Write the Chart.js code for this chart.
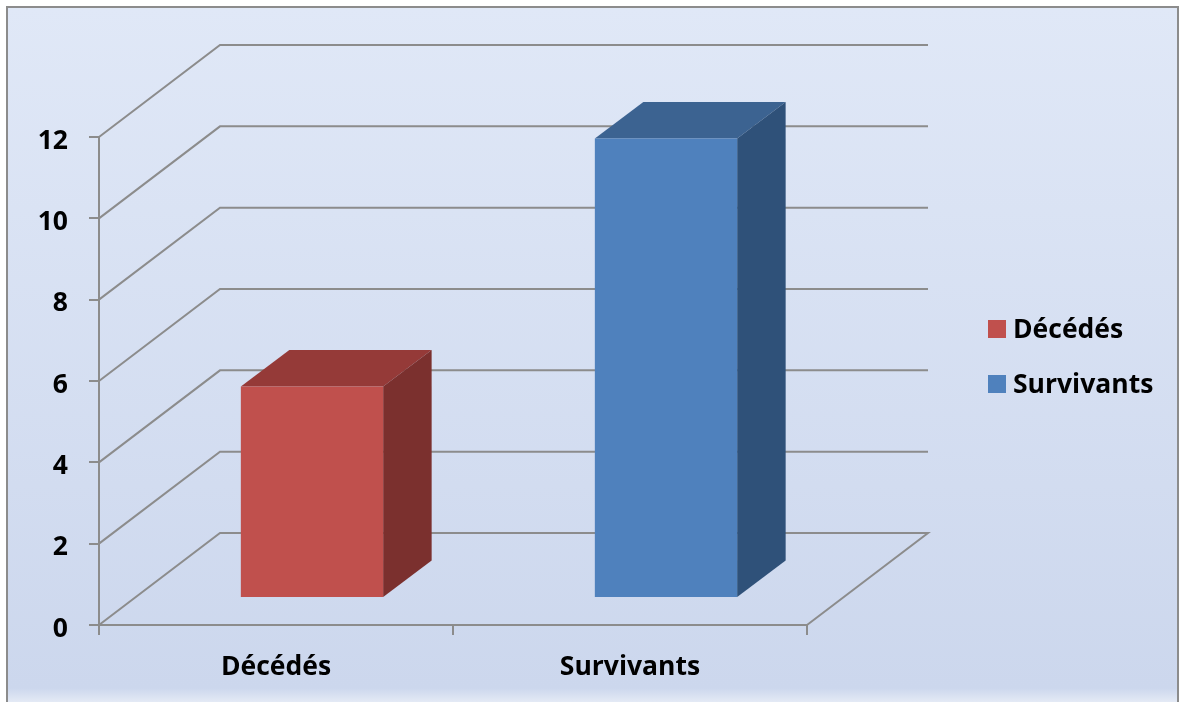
<!DOCTYPE html>
<html lang="fr">
<head>
<meta charset="utf-8">
<title>Décédés / Survivants</title>
<script src="https://cdn.jsdelivr.net/npm/chart.js@4"></script>
<style>
    html, body { margin: 0; padding: 0; background: #fff; }
    canvas { display: block; }
</style>
</head>
<body>
<canvas id="outcome-chart" width="1179" height="702"></canvas>
<script>
// Valeurs du graphique
const categories = ['Décédés', 'Survivants'];
const patientCounts = [5.2, 11.3];

// Couleurs des trois faces de chaque barre
const frontColors = ['#C0504D', '#4F81BD'];
const topColors = ['#953A38', '#3C6391'];
const sideColors = ['#7B302E', '#2F5179'];

const AXIS_COLOR = '#8C8C8C';
const FONT_FAMILY = '"Open Sans", Lato, sans-serif';
const FONT_SIZE = 26.5;

// Profondeur du décor (murs) et de la barre, en pixels
const WALL_DEPTH = { x: 121, y: -92 };
const BAR_OFFSET = { x: 36, y: -27 };
const BAR_DEPTH = { x: 48.5, y: -36.5 };

function polygon(ctx, points, color) {
    ctx.beginPath();
    points.forEach(([x, y], i) => (i ? ctx.lineTo(x, y) : ctx.moveTo(x, y)));
    ctx.closePath();
    ctx.fillStyle = color;
    ctx.fill();
}

// Fond dégradé et cadre
const backgroundPlugin = {
    id: 'panelBackground',
    beforeDraw(chart) {
        const { ctx, width, height } = chart;
        ctx.save();
        const gradient = ctx.createLinearGradient(0, 7, 0, height);
        gradient.addColorStop(0, '#E0E8F7');
        gradient.addColorStop(0.98, '#CCD7ED');
        gradient.addColorStop(1, '#E4EAF5');
        ctx.fillStyle = gradient;
        ctx.fillRect(7, 7, width - 8, height - 7);
        ctx.strokeStyle = AXIS_COLOR;
        ctx.lineWidth = 2;
        ctx.beginPath();
        ctx.moveTo(7, height);
        ctx.lineTo(7, 7);
        ctx.lineTo(width - 1, 7);
        ctx.lineTo(width - 1, height);
        ctx.stroke();
        ctx.restore();
    }
};

// Lignes de quadrillage sur le sol et les murs
const wallGridPlugin = {
    id: 'wallGrid',
    beforeDatasetsDraw(chart) {
        const { ctx, chartArea, scales } = chart;
        ctx.save();
        ctx.strokeStyle = AXIS_COLOR;
        ctx.lineWidth = 2;
        scales.y.ticks.forEach(tick => {
            const y = scales.y.getPixelForValue(tick.value);
            ctx.beginPath();
            ctx.moveTo(chartArea.left, y);
            ctx.lineTo(chartArea.left + WALL_DEPTH.x, y + WALL_DEPTH.y);
            ctx.lineTo(chartArea.right + WALL_DEPTH.x, y + WALL_DEPTH.y);
            if (tick.value === 0) {
                ctx.lineTo(chartArea.right, y);
            }
            ctx.stroke();
        });
        ctx.restore();
    }
};

// Les barres sont reculées sur le sol, puis extrudées (dessus + côté droit)
const barExtrusionPlugin = {
    id: 'barExtrusion',
    beforeDatasetDraw(chart, args) {
        const { ctx } = chart;
        ctx.save();
        ctx.translate(BAR_OFFSET.x, BAR_OFFSET.y);
        args.meta.data.forEach((bar, i) => {
            const { x, y, base, width } = bar.getProps(['x', 'y', 'base', 'width'], true);
            const left = x - width / 2;
            const right = x + width / 2;
            const dx = BAR_DEPTH.x;
            const dy = BAR_DEPTH.y;
            polygon(ctx, [[left, y], [right, y], [right + dx, y + dy], [left + dx, y + dy]], topColors[i]);
            polygon(ctx, [[right, y], [right + dx, y + dy], [right + dx, base + dy], [right, base]], sideColors[i]);
        });
    },
    afterDatasetDraw(chart) {
        chart.ctx.restore();
    }
};

// Légende à droite du graphique
const sideLegendPlugin = {
    id: 'sideLegend',
    afterDraw(chart) {
        const { ctx } = chart;
        ctx.save();
        ctx.font = 'bold ' + FONT_SIZE + 'px ' + FONT_FAMILY;
        ctx.textBaseline = 'alphabetic';
        categories.forEach((name, i) => {
            const y = 329 + i * 55;
            ctx.fillStyle = frontColors[i];
            ctx.fillRect(988, y - 9, 18, 18);
            ctx.fillStyle = '#000';
            ctx.fillText(name, 1013, y + 9);
        });
        ctx.restore();
    }
};

new Chart(document.getElementById('outcome-chart'), {
    type: 'bar',
    data: {
        labels: categories,
        datasets: [{
            label: 'Patients',
            data: patientCounts,
            backgroundColor: frontColors,
            borderWidth: 0,
            barPercentage: 0.402,
            categoryPercentage: 1,
            clip: false
        }]
    },
    options: {
        responsive: false,
        animation: false,
        layout: { padding: { left: 0, top: 137, right: 372, bottom: 0 } },
        plugins: {
            legend: { display: false },
            tooltip: { enabled: false }
        },
        scales: {
            y: {
                min: 0,
                max: 12,
                border: { color: AXIS_COLOR, width: 2 },
                grid: { drawOnChartArea: false, color: AXIS_COLOR, lineWidth: 2, tickLength: 10 },
                ticks: {
                    stepSize: 2,
                    padding: 21,
                    labelOffset: 4,
                    color: '#000',
                    font: { family: FONT_FAMILY, size: FONT_SIZE, weight: 'bold' }
                },
                afterFit(scale) { scale.width = 99; }
            },
            x: {
                border: { color: AXIS_COLOR, width: 2 },
                grid: { drawOnChartArea: false, color: AXIS_COLOR, lineWidth: 2, tickLength: 10 },
                ticks: {
                    padding: 17,
                    color: '#000',
                    maxRotation: 0,
                    font: { family: FONT_FAMILY, size: FONT_SIZE, weight: 'bold' }
                },
                afterFit(scale) { scale.height = 77; }
            }
        }
    },
    plugins: [backgroundPlugin, wallGridPlugin, barExtrusionPlugin, sideLegendPlugin]
});
</script>
</body>
</html>
